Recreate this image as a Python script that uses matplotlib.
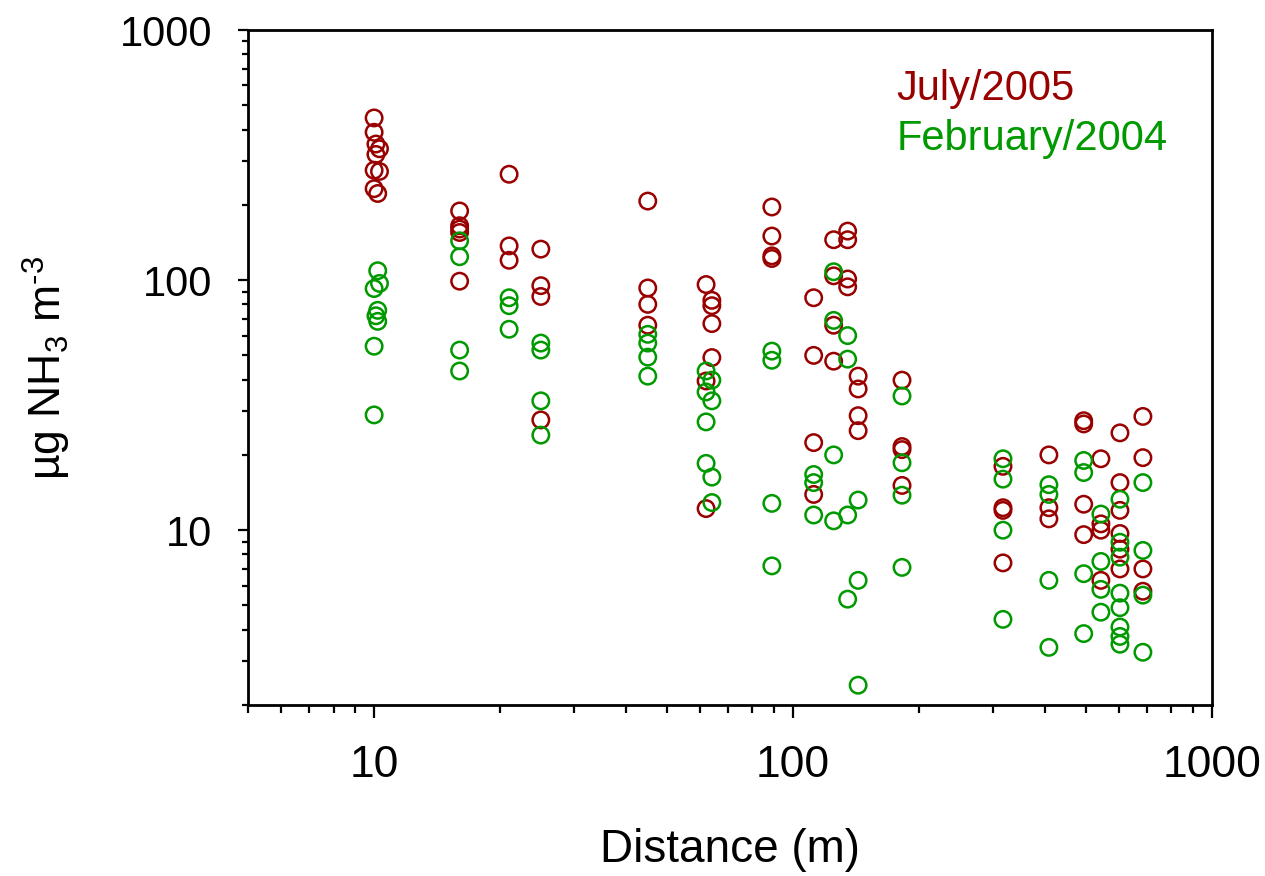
#%% Import libraries
import matplotlib.pyplot as plt
import numpy as np

plt.rcParams['font.family'] = ['Liberation Sans', 'DejaVu Sans']
plt.rcParams['mathtext.default'] = 'regular'

# NH3 concentration vs distance from source
# July/2005 campaign
jul_x = [10, 10, 10.1, 10.3, 10.1, 10, 10.3, 10, 10.2,
         16, 16, 16, 16, 16,
         21, 21, 21,
         25, 25, 25, 25,
         45, 45, 45, 45,
         62, 64, 64, 64, 64, 62, 62,
         89, 89, 89, 89,
         112, 112, 112, 112,
         125, 125, 125, 125,
         135, 135, 135, 135,
         143, 143, 143, 143,
         182, 182, 182, 182,
         317, 317, 317, 317,
         408, 408, 408,
         494, 494, 494, 494,
         543, 543, 543, 543,
         603, 603, 603, 603, 603, 603,
         684, 684, 684, 684]
jul_y = [445, 390, 350, 335, 318, 275, 272, 232, 222,
         189, 165, 160, 155, 99,
         265, 137, 120,
         133, 95, 86, 27.6,
         207, 93, 80, 66,
         96, 83, 79, 67, 49, 39.5, 12.2,
         196, 150, 125, 122,
         85, 50, 22.4, 13.9,
         145, 104, 66, 47.4,
         157, 145, 101, 94,
         41.3, 36.7, 28.7, 25,
         39.8, 21.6, 21, 15.1,
         18, 12.3, 12, 7.4,
         20, 12.3, 11.1,
         27.4, 26.6, 12.7, 9.6,
         19.3, 10.6, 10, 6.3,
         24.5, 15.5, 12, 9.7, 8.4, 7.0,
         28.5, 19.5, 7.0, 5.7]

# February/2004 campaign
feb_x = [10.2, 10.3, 10, 10.2, 10.1, 10.2, 10, 10,
         16, 16, 16, 16,
         21, 21, 21,
         25, 25, 25, 25,
         45, 45, 45, 45,
         62, 62, 62, 62,
         64, 64, 64, 64,
         89, 89, 89, 89,
         112, 112, 112,
         125, 125, 125, 125,
         135, 135, 135, 135,
         143, 143, 143,
         182, 182, 182, 182,
         317, 317, 317, 317,
         408, 408, 408, 408,
         494, 494, 494, 494,
         543, 543, 543, 543,
         603, 603, 603, 603, 603, 603, 603, 603,
         684, 684, 684, 684]
feb_y = [109, 97, 92.5, 75.7, 72, 68.4, 54.4, 28.9,
         143.6, 124, 52.5, 43.3,
         85, 79, 63.6,
         56, 52.5, 32.9, 24,
         60.7, 56, 49.2, 41.3,
         43.3, 35.7, 27.1, 18.5,
         39.8, 32.9, 16.3, 12.9,
         52, 47.8, 12.8, 7.2,
         16.7, 15.5, 11.5,
         108, 69, 20, 10.9,
         60, 48.3, 11.5, 5.3,
         13.2, 6.3, 2.4,
         34.4, 18.6, 13.8, 7.1,
         19.3, 16, 10, 4.4,
         15.2, 13.9, 6.3, 3.4,
         19, 17, 6.7, 3.86,
         11.6, 7.5, 5.8, 4.7,
         13.3, 8.95, 7.8, 5.6, 4.9, 4.1, 3.76, 3.5,
         15.5, 8.3, 5.5, 3.25]

red = '#990000'
green = '#009900'

#%% Plot
fig = plt.figure(figsize=(12.65, 8.76), dpi=100)
ax = fig.add_axes([248/1265, 1-705/876, (1212-248)/1265, (705-30)/876])

ax.scatter(jul_x, jul_y, s=140, facecolors='none', edgecolors=red, linewidths=1.8)
ax.scatter(feb_x, feb_y, s=140, facecolors='none', edgecolors=green, linewidths=1.8)

ax.set_xscale('log')
ax.set_yscale('log')
ax.set_xlim(5, 1000)
ax.set_ylim(2, 1000)
ax.set_xticks([10, 100, 1000])
ax.set_xticklabels(['10', '100', '1000'])
ax.set_yticks([10, 100, 1000])
ax.set_yticklabels(['10', '100', '1000'])

# Format the plot
for sp in ax.spines.values():
    sp.set_linewidth(2)
ax.tick_params(axis='x', which='major', direction='out', length=9, width=1.6, pad=20, labelsize=32)
ax.tick_params(axis='x', which='minor', direction='out', length=6, width=1.6)
ax.tick_params(axis='y', which='major', direction='out', length=7.5, width=1.6, pad=18, labelsize=30)
ax.tick_params(axis='y', which='minor', direction='out', length=4.5, width=1.6)

ax.set_xlabel('Distance (m)', fontsize=33, labelpad=30)
ax.set_ylabel('\u00b5g NH$_3$ m$^{\u2010 3}$', fontsize=32, labelpad=34)

ax.text(0.673, 0.896, 'July/2005', color=red, fontsize=30, transform=ax.transAxes, va='baseline')
ax.text(0.673, 0.822, 'February/2004', color=green, fontsize=30, transform=ax.transAxes, va='baseline')

plt.savefig('out.png', dpi=100)
